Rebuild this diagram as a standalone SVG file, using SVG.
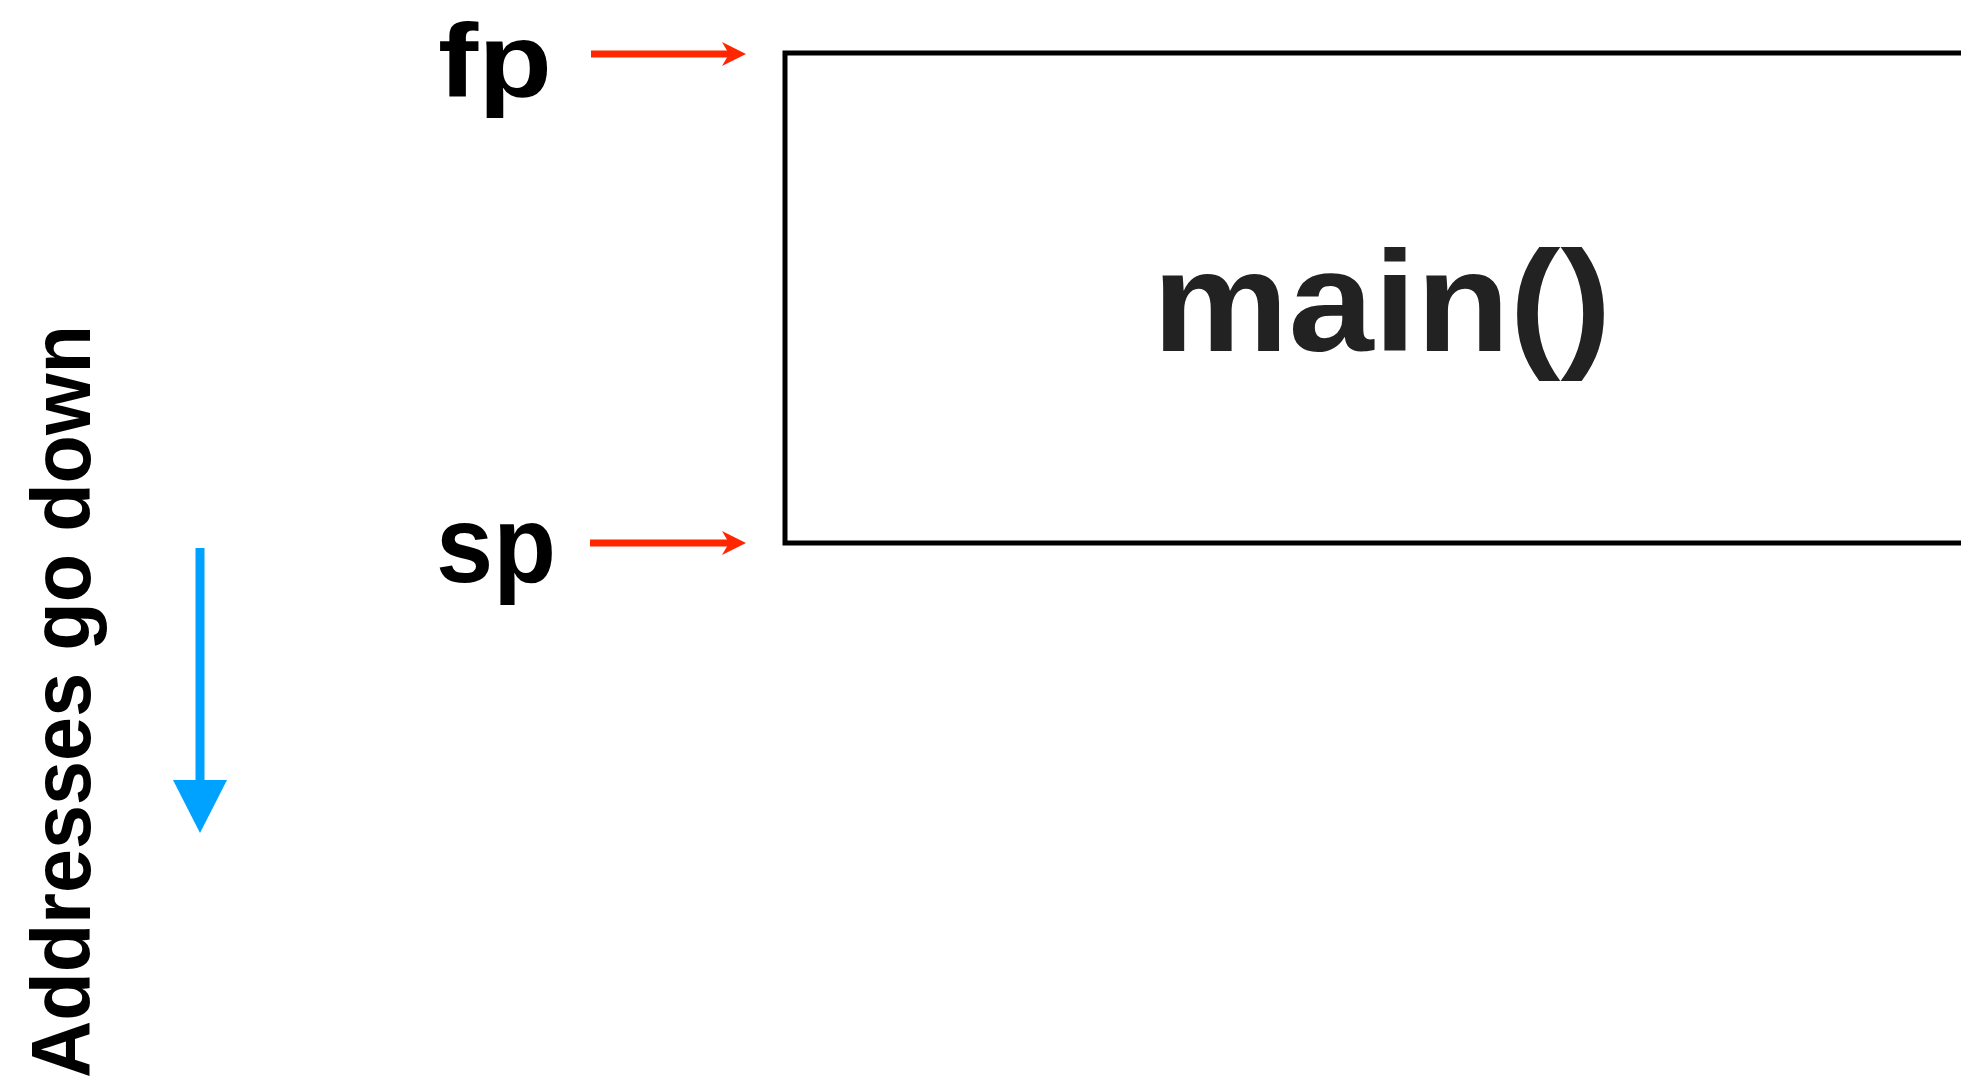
<svg xmlns="http://www.w3.org/2000/svg" width="1961" height="1086" viewBox="0 0 1961 1086">
<style>
.lbl{font-family:"Liberation Sans",Arial,sans-serif;font-weight:bold;fill:#000}
.red{stroke:#FF2600;stroke-width:7;fill:none}
</style>
<defs>
<marker id="redhead" markerUnits="userSpaceOnUse" markerWidth="30" markerHeight="30" refX="8" refY="12" orient="auto">
<path d="M0,0 L24,12 L0,24 L7,12 Z" fill="#FF2600"/>
</marker>
</defs>
<rect width="1961" height="1086" fill="#fff"/>
<g id="frame-main">
<rect x="785" y="53" width="1300" height="490" fill="none" stroke="#000" stroke-width="5"/>
<text x="1382" y="351" text-anchor="middle" font-family="'Liberation Sans',Arial,sans-serif" font-weight="bold" font-size="142" fill="#222" textLength="459" lengthAdjust="spacingAndGlyphs">main()</text>
</g>
<g id="label-fp">
<text class="lbl" x="438" y="96" font-size="104" textLength="114" lengthAdjust="spacingAndGlyphs">fp</text>
</g>
<g id="label-sp">
<text class="lbl" x="436" y="582" font-size="110" textLength="120" lengthAdjust="spacingAndGlyphs">sp</text>
</g>
<g id="label-addresses">
<text class="lbl" transform="translate(90,1078) rotate(-90)" x="0" y="0" font-size="84" textLength="753" lengthAdjust="spacingAndGlyphs">Addresses go down</text>
</g>
<g id="connectors">
<line class="red" x1="591" y1="54" x2="730" y2="54" marker-end="url(#redhead)"/>
<line class="red" x1="590" y1="543" x2="730" y2="543" marker-end="url(#redhead)"/>
<line x1="200" y1="548" x2="200" y2="785" stroke="#00A2FF" stroke-width="9"/>
<polygon points="173,780 227,780 200,833" fill="#00A2FF"/>
</g>
</svg>
